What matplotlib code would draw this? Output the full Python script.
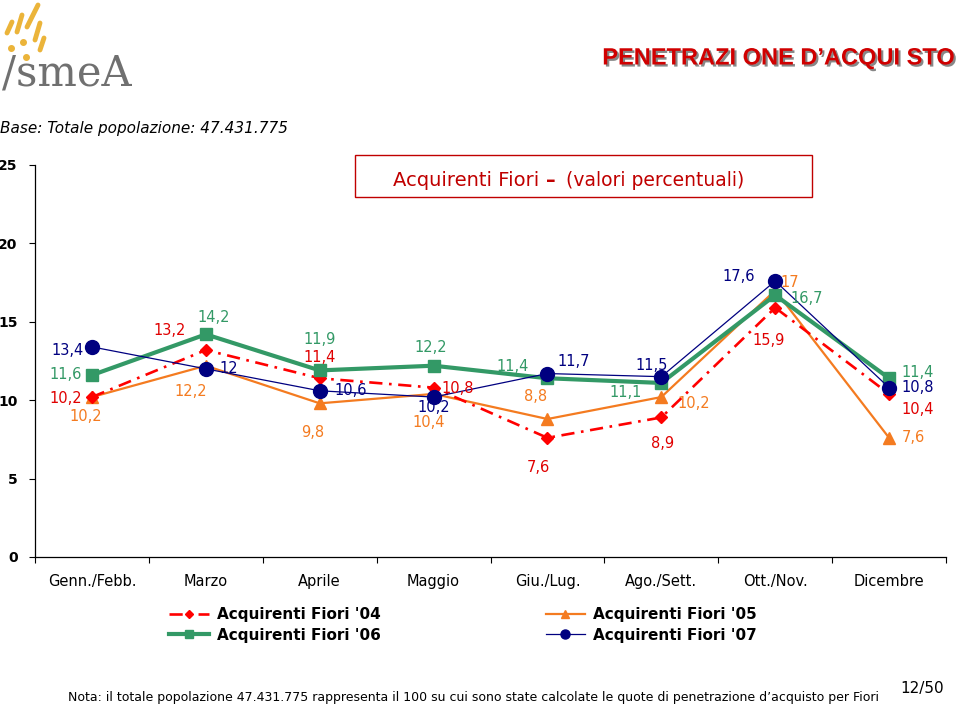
import matplotlib
matplotlib.use("Agg")
import matplotlib.pyplot as plt
import matplotlib.patheffects as pe
from matplotlib.lines import Line2D
from matplotlib.patches import Rectangle

# categories and series (valori percentuali)
mesi = ["Genn./Febb.", "Marzo", "Aprile", "Maggio", "Giu./Lug.", "Ago./Sett.", "Ott./Nov.", "Dicembre"]
fiori_04 = [10.2, 13.2, 11.4, 10.8, 7.6, 8.9, 15.9, 10.4]
fiori_05 = [10.2, 12.2, 9.8, 10.4, 8.8, 10.2, 17.0, 7.6]
fiori_06 = [11.6, 14.2, 11.9, 12.2, 11.4, 11.1, 16.7, 11.4]
fiori_07 = [13.4, 12.0, 10.6, 10.2, 11.7, 11.5, 17.6, 10.8]
y_ticks = [0, 5, 10, 15, 20, 25]

# label offsets in pixels (dx, dy) for each point
off_04 = [(-26, -1), (-36, 20), (0, 21), (24, -1), (-9, -30), (1, -26), (-7, -33), (29, -16)]
off_05 = [(-6, -19), (-15, -26), (-7, -29), (-5, -29), (-12, 23), (32, -6), (15, 8), (24, 0)]
off_06 = [(-26, 1), (8, 17), (0, 31), (-3, 18), (-35, 12), (-36, -10), (31, -3), (29, 6)]
off_07 = [(-24, -4), (23, 0), (31, 0), (0, -10), (26, 12), (-10, 11), (-37, 5), (29, 0)]

RED = "#FF0000"
ORANGE = "#F47B20"
GREEN = "#339966"
NAVY = "#000080"

fig = plt.figure(figsize=(9.6, 7.07), dpi=100)
W, H = 960, 707

ax = fig.add_axes([35 / W, 1 - 557 / H, (946 - 35) / W, (557 - 165) / H])
x = list(range(len(mesi)))

l05, = ax.plot(x, fiori_05, color=ORANGE, lw=1.6, marker="^", ms=9, zorder=2)
l04, = ax.plot(x, fiori_04, color=RED, lw=1.9, marker="D", ms=6.5, zorder=3,
               dashes=(5, 2.5, 1, 2.5))
l06, = ax.plot(x, fiori_06, color=GREEN, lw=3.0, marker="s", ms=8, zorder=4)
l07, = ax.plot(x, fiori_07, color=NAVY, lw=0.9, marker="o", ms=10, zorder=5)

series = [(fiori_04, off_04, "#E00000"), (fiori_05, off_05, ORANGE),
          (fiori_06, off_06, GREEN), (fiori_07, off_07, NAVY)]
for vals, offs, col in series:
    for i, v in enumerate(vals):
        lab = ("%g" % v).replace(".", ",")
        ax.annotate(lab, (i, v), xytext=offs[i], textcoords="offset pixels",
                    ha="center", va="center", fontsize=10.5, color=col, zorder=6)

ax.set_xlim(-0.5, len(mesi) - 0.5)
ax.set_ylim(0, 25)
ax.set_yticks(y_ticks)
ax.set_yticklabels([str(t) for t in y_ticks], fontsize=10, fontweight="bold")
ax.tick_params(axis="y", direction="out", length=4.5, width=0.8, pad=8)

# ticks between categories, labels at the categories
ax.set_xticks([i - 0.5 for i in range(len(mesi) + 1)])
ax.set_xticklabels([])
ax.set_xticks(x, minor=True)
ax.set_xticklabels(mesi, minor=True, fontsize=10.5)
ax.tick_params(axis="x", which="major", direction="out", length=4.5, width=0.8)
ax.tick_params(axis="x", which="minor", length=0, pad=12)

ax.spines["top"].set_visible(False)
ax.spines["right"].set_visible(False)
for s in ["left", "bottom"]:
    ax.spines[s].set_linewidth(0.9)

# legend
leg = fig.legend([l04, l06, l05, l07],
                 ["Acquirenti Fiori '04", "Acquirenti Fiori '06",
                  "Acquirenti Fiori '05", "Acquirenti Fiori '07"],
                 ncol=2, loc="center", bbox_to_anchor=(463 / W, 1 - 625 / H),
                 frameon=False, prop={"size": 11, "weight": "bold"},
                 handlelength=2.6, handletextpad=0.5, columnspacing=10.8,
                 labelspacing=0.35, markerscale=0.65)

# chart title box
fig.patches.append(Rectangle((355 / W, 1 - 197 / H), (812 - 355) / W, 42 / H,
                             transform=fig.transFigure, fill=False,
                             edgecolor="#C00000", lw=1.0))
fig.text(393 / W, 1 - 180 / H, "Acquirenti Fiori", fontsize=14, color="#C00000",
         ha="left", va="center")
fig.text(551 / W, 1 - 181 / H, "\u2013", fontsize=14, fontweight="bold", color="#C00000",
         ha="center", va="center")
fig.text(566 / W, 1 - 181 / H, "(valori percentuali)", fontsize=13.5, color="#C00000",
         ha="left", va="center")

# header
fig.text(955 / W, 1 - 58 / H, "PENETRAZI ONE D\u2019ACQUI STO", fontsize=17,
         fontweight="bold", color="#D00000", ha="right", va="center",
         family=["Liberation Sans", "DejaVu Sans"],
         path_effects=[pe.withSimplePatchShadow(offset=(1.5, -1.5), shadow_rgbFace="#555555", alpha=0.7)])

# logo
for (x0, y0, x1, y1) in [(7, 33, 12, 22), (17, 32, 22, 15), (27, 27, 38, 5),
                         (35, 40, 40, 23), (40, 50, 44, 38)]:
    fig.add_artist(Line2D([x0 / W, x1 / W], [1 - y0 / H, 1 - y1 / H],
                          transform=fig.transFigure, color="#EBB43A", lw=3.5,
                          solid_capstyle="round"))
for (px, py) in [(11, 48), (23, 42), (26, 57)]:
    fig.add_artist(Line2D([px / W], [1 - py / H], transform=fig.transFigure,
                          marker="o", ms=4, color="#EBB43A", lw=0))
fig.text(2 / W, 1 - 74 / H, "/smeA", fontsize=30, color="#707070",
         family=["DejaVu Serif"], ha="left", va="center")

fig.text(0, 1 - 128 / H, "Base: Totale popolazione: 47.431.775", fontsize=11,
         style="italic", ha="left", va="center")

fig.text(474 / W, 1 - 697 / H,
         "Nota: il totale popolazione 47.431.775 rappresenta il 100 su cui sono state "
         "calcolate le quote di penetrazione d\u2019acquisto per Fiori",
         fontsize=9, ha="center", va="center")
fig.text(922 / W, 1 - 688 / H, "12/50", fontsize=11, ha="center", va="center")

fig.savefig("out.png", dpi=100)
